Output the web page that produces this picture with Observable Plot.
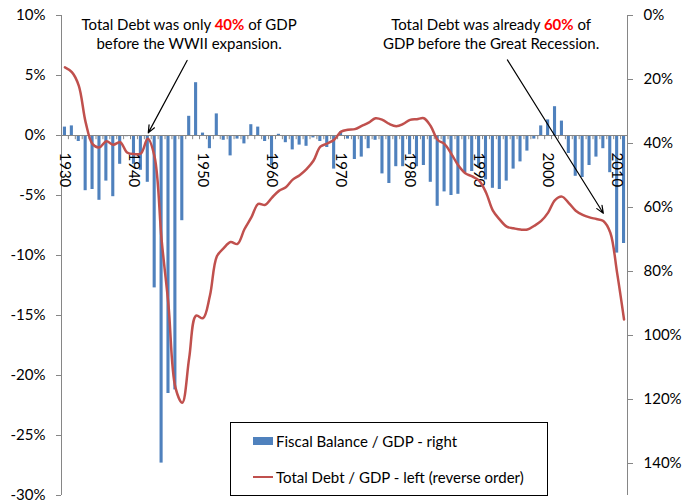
<!DOCTYPE html>
<html>
<head>
<meta charset="utf-8">
<script src="https://cdn.jsdelivr.net/npm/d3@7"></script>
<script src="https://cdn.jsdelivr.net/npm/@observablehq/plot@0.6"></script>
<style>
  html, body { margin: 0; padding: 0; background: #fff; }
  #wrap { position: relative; width: 683px; height: 500px; overflow: hidden; font-family: Lato, "Open Sans", sans-serif; color: #000; }
  .note { position: absolute; text-align: center; font-size: 15px; line-height: 19px; white-space: nowrap; }
  .note b { color: #FF0000; }
  #legend { position: absolute; left: 230px; top: 422px; width: 316px; height: 72px; border: 1px solid #000; background: #fff; font-size: 15px; }
  .li { position: absolute; left: 22px; display: flex; align-items: center; white-space: nowrap; }
  .sw { display: inline-block; width: 20px; margin-right: 3px; }
</style>
</head>
<body>
<div id="wrap"></div>
<script>
// Category labels (years as labelled on the chart)
const years = d3.range(1930, 2012);
const xTickYears = [1930, 1940, 1950, 1960, 1970, 1980, 1990, 2000, 2010];

// Fiscal balance, % of GDP (bars, left axis)
const balance = [
  0.7, 0.8, -0.5, -4.6, -4.5, -5.4, -3.8, -5.1, -2.4, -0.1,
  -2.4, -2.9, -3.9, -12.7, -27.3, -21.5, -21.2, -7.1, 1.6, 4.4,
  0.2, -1.1, 1.8, -0.4, -1.7, -0.3, -0.7, 0.9, 0.7, -0.5,
  -2.5, 0.1, -0.6, -1.2, -0.8, -0.9, -0.2, -0.5, -1.0, -2.8,
  0.3, -0.3, -2.0, -1.8, -1.1, -0.4, -3.2, -4.0, -2.6, -2.6,
  -1.6, -2.6, -2.5, -3.9, -5.9, -4.7, -5.0, -4.9, -3.1, -3.0,
  -2.7, -3.7, -4.4, -4.5, -3.8, -2.8, -2.2, -1.3, -0.3, 0.8,
  1.3, 2.4, 1.2, -1.5, -3.4, -3.5, -2.5, -1.8, -1.1, -3.1,
  -9.8, -9.0
];

// Total debt, % of GDP (line, right axis, reversed)
const debt = [
  16.2, 17.7, 21.9, 33.4, 40.2, 41.2, 39.3, 40.4, 39.6, 42.8,
  43.3, 43.1, 38.5, 44.3, 70.0, 90.5, 116.2, 121.0, 107.0, 93.8,
  94.6, 87.6, 75.3, 72.7, 70.8, 71.4, 66.8, 63.1, 58.9, 59.2,
  56.9, 54.8, 53.7, 51.3, 49.9, 48.0, 45.4, 41.0, 40.0, 38.8,
  36.3, 35.7, 35.5, 34.5, 33.5, 32.1, 32.6, 33.9, 34.6, 33.9,
  32.6, 32.4, 32.1, 34.6, 38.9, 40.2, 43.3, 46.9, 49.3, 50.3,
  51.6, 55.3, 61.0, 63.8, 66.0, 66.5, 66.9, 66.9, 65.7, 64.2,
  61.6, 57.7, 56.6, 58.6, 61.0, 62.3, 63.1, 63.6, 64.2, 67.8,
  80.5, 95.0
];

// Axis tick values
const leftTicks = [10, 5, 0, -5, -10, -15, -20, -25, -30];
const rightTicks = [0, 20, 40, 60, 80, 100, 120, 140];

// Scale domains
const leftDomain = [-30, 10];
const rightDomain = [0, 150];

// Annotation arrows (data units: x = year position, y = left-axis %)
const arrowStartX = [1948.2, 1994.6];
const arrowStartY = [6.25, 6.3];
const arrowEndX = [1942.57, 2008.5];
const arrowEndY = [0.22, -6.48];

// Map the right (reversed) axis onto the left axis
const toLeft = v => leftDomain[1] - (v - rightDomain[0]) * (leftDomain[1] - leftDomain[0]) / (rightDomain[1] - rightDomain[0]);
const fromLeft = y => (leftDomain[1] - y) * (rightDomain[1] - rightDomain[0]) / (leftDomain[1] - leftDomain[0]) + rightDomain[0];

const rows = years.map((yr, i) => ({year: yr, bal: balance[i], debt: debt[i]}));
const bounds = years.concat([years[years.length - 1] + 1]);
const arrows = arrowStartX.map((d, i) => ({x1: d, y1: arrowStartY[i], x2: arrowEndX[i], y2: arrowEndY[i]}));

const grey = "#868686";

const chart = Plot.plot({
  width: 683,
  height: 500,
  marginLeft: 61,
  marginRight: 56,
  marginTop: 15,
  marginBottom: 5,
  x: {domain: [bounds[0], bounds[bounds.length - 1]], axis: null},
  y: {domain: leftDomain, axis: null},
  style: {fontFamily: "Lato, 'Open Sans', sans-serif", fontSize: "15px", color: "#000", background: "transparent", overflow: "visible"},
  marks: [
    Plot.rect(rows, {x1: "year", x2: d => d.year + 1, y1: 0, y2: "bal", fill: "#4F81BD", insetLeft: 1.9, insetRight: 1.9}),
    Plot.ruleY([0], {stroke: grey, strokeWidth: 1}),
    Plot.ruleX(bounds, {x: d => d, y1: 0, y2: -0.35, stroke: grey}),
    Plot.ruleX([bounds[0], bounds[bounds.length - 1]], {stroke: grey}),
    Plot.axisY(leftTicks, {anchor: "left", tickSize: 5, tickPadding: 11, stroke: grey, tickFormat: d => d + "%", label: null, fontSize: 15}),
    Plot.axisY(rightTicks.map(toLeft), {anchor: "right", tickSize: 5, tickPadding: 11, stroke: grey, tickFormat: v => Math.round(fromLeft(v)) + "%", label: null, fontSize: 15}),
    Plot.text(xTickYears, {x: d => d + 0.5, y: 0, text: d => String(d), rotate: 90, textAnchor: "start", lineAnchor: "middle", dy: 17, fontSize: 15, fill: "#000"}),
    Plot.line(rows, {x: d => d.year + 0.5, y: d => toLeft(d.debt), stroke: "#C0504D", strokeWidth: 2.5, curve: "catmull-rom"}),
    Plot.arrow(arrows, {x1: "x1", y1: "y1", x2: "x2", y2: "y2", stroke: "#000", strokeWidth: 1.2, headLength: 10, headAngle: 45})
  ]
});

const wrap = document.getElementById("wrap");
wrap.appendChild(chart);

function note(html, cx, top) {
  const d = document.createElement("div");
  d.className = "note";
  d.innerHTML = html;
  d.style.top = top + "px";
  wrap.appendChild(d);
  d.style.left = (cx - d.offsetWidth / 2) + "px";
}
note("Total Debt was only <b>40%</b> of GDP<br>before the WWII expansion.", 189, 15);
note("Total Debt was already <b>60%</b> of<br>GDP before the Great Recession.", 491, 15);

const legend = document.createElement("div");
legend.id = "legend";
legend.innerHTML =
  '<div class="li" style="top:8px;height:20px"><span class="sw" style="height:8px;background:#4F81BD"></span>Fiscal Balance / GDP - right</div>' +
  '<div class="li" style="top:44px;height:20px"><span class="sw" style="height:2.5px;background:#C0504D"></span>Total Debt / GDP - left (reverse order)</div>';
wrap.appendChild(legend);
</script>
</body>
</html>
